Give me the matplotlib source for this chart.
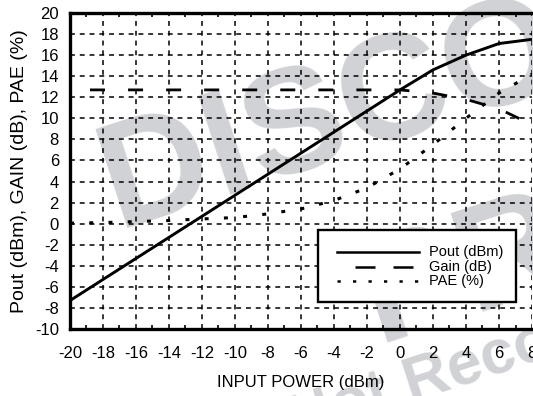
import numpy as np
import matplotlib
matplotlib.use('Agg')
import matplotlib.pyplot as plt
from matplotlib.patches import Rectangle
from matplotlib.lines import Line2D

plt.rcParams['font.family'] = ['Liberation Sans', 'DejaVu Sans']
plt.rcParams['axes.unicode_minus'] = False

# swept input power (dBm) and measured responses
pin = [-20, -18, -16, -14, -12, -10, -8, -6, -4, -2, 0, 2, 4, 6, 8]
pout = [-7.3, -5.3, -3.3, -1.3, 0.7, 2.7, 4.7, 6.7, 8.7, 10.7, 12.7, 14.6, 16.0, 17.1, 17.5]
gain = [12.7, 12.7, 12.7, 12.7, 12.7, 12.7, 12.7, 12.7, 12.7, 12.7, 12.7, 12.4, 11.8, 10.9, 9.4]
pae = [0.05, 0.1, 0.2, 0.3, 0.45, 0.58, 0.93, 1.4, 2.2, 3.4, 5.2, 7.5, 10.0, 12.4, 14.2]

xticks = list(range(-20, 9, 2))
yticks = list(range(-10, 21, 2))

W, H = 533, 396
fig = plt.figure(figsize=(W / 100, H / 100), dpi=100)
ax = fig.add_axes([70 / W, (H - 329) / H, 462 / W, 316 / H])
ax.patch.set_alpha(0)

# faint stamp behind the plot
wm = '#d0d2d6'
stamp = dict(color=wm, rotation=18, rotation_mode='anchor', ha='left', va='baseline',
             fontweight='bold', zorder=-5)
fig.text(118 / W, 1 - 228 / H, 'DISCONTINUED', fontsize=108, **stamp)
fig.text(378 / W, 1 - 342 / H, 'PRODUCT', fontsize=108, **stamp)
fig.text(295 / W, 1 - 440 / H, 'Not Recommended', fontsize=45, **stamp)

ax.plot(pin, pout, color='black', lw=2.1, solid_capstyle='butt')
ax.plot(pin, gain, color='black', lw=2.0, linestyle=(6.5, (5.4, 8.3)))
ax.plot(pin, pae, color='black', lw=2.2, linestyle=(0, (1.3, 5.0)))

ax.set_xlim(-20, 8)
ax.set_ylim(-10, 20)
ax.set_xticks(xticks)
ax.set_yticks(yticks)
ax.set_xticks(np.arange(-19, 8, 2), minor=True)
ax.grid(True, which='major', color='black', lw=1.1, linestyle=(0, (3.2, 3.2)))
ax.tick_params(which='major', direction='in', length=0, labelsize=12, pad=12)
ax.tick_params(axis='y', which='major', pad=8)
ax.tick_params(which='minor', direction='in', length=3, width=1.2, top=True)
ax.tick_params(axis='y', which='minor', left=False)

for side in ['left', 'top', 'bottom']:
    ax.spines[side].set_linewidth(2.4)
ax.spines['right'].set_visible(False)

ax.set_xlabel('INPUT POWER (dBm)', fontsize=12, labelpad=10)
ax.set_ylabel('Pout (dBm), GAIN (dB), PAE (%)', fontsize=14, labelpad=5)

# hand-built key box, laid out in pixel terms
tr = ax.transAxes
def axx(px):
    return (px - 70) / 462
def axy(py):
    return (329 - py) / 316

ax.add_patch(Rectangle((axx(318), axy(302)), axx(516) - axx(318), axy(230) - axy(302),
                       transform=tr, facecolor='white', edgecolor='black', lw=1.7, zorder=4))
keys = [('Pout (dBm)', '-', 252), ('Gain (dB)', (8, (8, 7.2)), 267), ('PAE (%)', (0, (1.3, 4.9)), 281)]
for label, ls, py in keys:
    ax.add_line(Line2D([axx(337), axx(419)], [axy(py), axy(py)], transform=tr,
                       color='black', lw=1.8, linestyle=ls, zorder=5))
    ax.text(axx(429), axy(py), label, transform=tr, fontsize=10.5, ha='left', va='center', zorder=5)

fig.savefig('out.png', dpi=100)
